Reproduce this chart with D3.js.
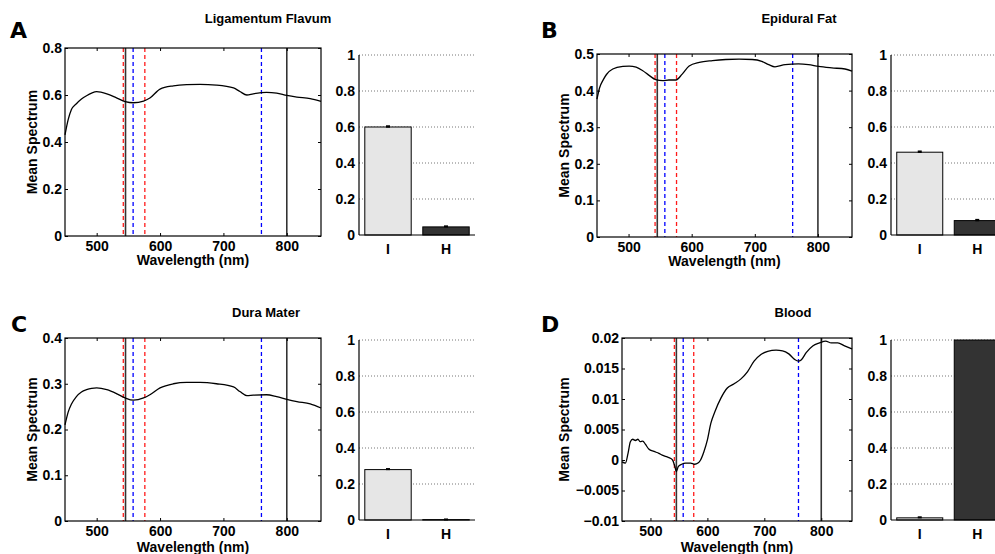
<!DOCTYPE html>
<html>
<head>
<meta charset="utf-8">
<script src="https://cdn.jsdelivr.net/npm/d3@7"></script>
<style>
body { margin: 0; background: #fff; }
text { font-family: "Liberation Sans", Arial, sans-serif; font-weight: bold; fill: #000; }
</style>
</head>
<body>
<svg id="fig" width="995" height="554"></svg>
<script>
// ---- data ----
var xTicks = [500, 600, 700, 800];
var redMarks = [542, 576];
var blueMarks = [557.5, 760];
var blackMarks = [545.5, 800];
var barCats = ["I", "H"];
var barTicks = [0, 0.2, 0.4, 0.6, 0.8, 1];

var flavumWl   = [450, 455, 460, 468, 476, 484, 492, 500, 516, 532, 545, 558, 574, 584, 600, 621, 642, 663, 689, 716, 726, 737, 747, 768, 784, 800, 816, 837, 854];
var flavumSpec = [0.43, 0.495, 0.537, 0.563, 0.583, 0.597, 0.608, 0.614, 0.605, 0.587, 0.572, 0.567, 0.574, 0.587, 0.625, 0.639, 0.644, 0.645, 0.642, 0.63, 0.615, 0.60, 0.605, 0.611, 0.608, 0.598, 0.591, 0.585, 0.573];
var flavumTicks = [0, 0.2, 0.4, 0.6, 0.8];
var flavumBar = [0.60, 0.045];
var flavumErr = [0.004, 0.003];

var fatWl   = [450, 454, 460, 465, 475, 491, 501, 512, 522, 533, 543, 554, 564, 575, 585, 596, 612, 633, 654, 675, 696, 711, 722, 732, 748, 769, 785, 801, 822, 843, 854];
var fatSpec = [0.377, 0.407, 0.43, 0.444, 0.459, 0.466, 0.467, 0.464, 0.455, 0.441, 0.43, 0.427, 0.429, 0.429, 0.445, 0.467, 0.477, 0.482, 0.485, 0.486, 0.485, 0.48, 0.471, 0.465, 0.471, 0.473, 0.471, 0.466, 0.462, 0.459, 0.453];
var fatTicks = [0, 0.1, 0.2, 0.3, 0.4, 0.5];
var fatBar = [0.46, 0.08];
var fatErr = [0.004, 0.004];

var duraWl   = [450, 455, 460, 468, 476, 484, 492, 500, 516, 532, 545, 558, 574, 584, 600, 621, 642, 663, 689, 716, 726, 737, 747, 768, 784, 800, 816, 837, 854];
var duraSpec = [0.21, 0.238, 0.255, 0.272, 0.282, 0.287, 0.29, 0.291, 0.287, 0.278, 0.269, 0.264, 0.269, 0.276, 0.291, 0.30, 0.303, 0.303, 0.30, 0.293, 0.283, 0.274, 0.275, 0.276, 0.272, 0.266, 0.261, 0.256, 0.247];
var duraTicks = [0, 0.1, 0.2, 0.3, 0.4];
var duraBar = [0.28, 0.002];
var duraErr = [0.003, 0.001];

var bloodWl   = [450, 456, 460.6, 464.7, 468.8, 473.5, 478, 482, 486.5, 491, 497, 506, 514.7, 520.6, 529.4, 535, 539.4, 543, 545.3, 548.8, 554.7, 561.8, 570.6, 577.6, 583.5, 588, 594, 600, 606, 613.5, 623.5, 635, 647, 659, 670.6, 682, 694, 706, 720.6, 732, 743, 753, 760, 764.7, 773.5, 785, 797, 807.6, 817.6, 829, 841, 854];
var bloodSpec = [-0.0003, -0.0005, 0.0011, 0.003, 0.0034, 0.0032, 0.0034, 0.003, 0.0031, 0.0026, 0.0018, 0.0014, 0.0011, 0.0008, 0.0005, 0.0003, -0.0001, -0.0011, -0.0019, -0.0011, -0.0007, -0.0005, -0.0005, -0.0007, -0.0005, 0, 0.0014, 0.0033, 0.006, 0.008, 0.0101, 0.0118, 0.0125, 0.0133, 0.0145, 0.0162, 0.0173, 0.0178, 0.018, 0.0179, 0.0174, 0.0165, 0.0162, 0.0164, 0.0176, 0.0187, 0.0192, 0.0195, 0.0192, 0.0192, 0.0187, 0.0182];
var bloodTicks = [-0.01, -0.005, 0, 0.005, 0.01, 0.015, 0.02];
var bloodBar = [0.012, 1.0];
var bloodErr = [0.003, 0];

var svg = d3.select("#fig");
var fmt = d3.format("~g");

var panels = [
	{ letter: "A", title: "Ligamentum Flavum", wl: flavumWl, spec: flavumSpec, ticks: flavumTicks, bar: flavumBar, err: flavumErr,
	  box: {l: 65, r: 321, t: 48, b: 236}, bbox: {l: 359, r: 475, t: 55, b: 235}, tx: 268, ty: 23, lx: 10, ly: 38, yl: 37, xl: 265 },
	{ letter: "B", title: "Epidural Fat", wl: fatWl, spec: fatSpec, ticks: fatTicks, bar: fatBar, err: fatErr,
	  box: {l: 597, r: 852, t: 54, b: 237}, bbox: {l: 891, r: 1006, t: 55, b: 235}, tx: 799, ty: 23, lx: 541, ly: 38, yl: 569, xl: 266 },
	{ letter: "C", title: "Dura Mater", wl: duraWl, spec: duraSpec, ticks: duraTicks, bar: duraBar, err: duraErr,
	  box: {l: 65, r: 321, t: 338, b: 521}, bbox: {l: 359, r: 475, t: 340, b: 520}, tx: 266, ty: 317, lx: 11, ly: 332, yl: 37, xl: 552 },
	{ letter: "D", title: "Blood", wl: bloodWl, spec: bloodSpec, ticks: bloodTicks, bar: bloodBar, err: bloodErr,
	  box: {l: 622, r: 852, t: 338, b: 521}, bbox: {l: 891, r: 1006, t: 340, b: 520}, tx: 793, ty: 317, lx: 541, ly: 332, yl: 569, xl: 552 }
];

panels.forEach(function (p) {
	drawSpectrum(p);
	drawBars(p);

	svg.append("text")
		.attr("x", p.tx).attr("y", p.ty)
		.attr("text-anchor", "middle")
		.style("font-size", "13px")
		.text(p.title);

	svg.append("text")
		.attr("x", p.lx).attr("y", p.ly)
		.style("font-family", "'DejaVu Sans', sans-serif")
		.style("font-size", "22px")
		.text(p.letter);
});

function drawSpectrum(p) {
	var b = p.box;
	var x = d3.scaleLinear().domain([450, 854]).range([b.l, b.r]);
	var y = d3.scaleLinear().domain(d3.extent(p.ticks)).range([b.b, b.t]);
	var g = svg.append("g");

	// marker lines
	function marks(vals, color, dash, w) {
		g.selectAll(null)
			.data(vals)
			.enter().append("line")
			.attr("x1", function (d) { return x(d); })
			.attr("x2", function (d) { return x(d); })
			.attr("y1", b.t).attr("y2", b.b)
			.attr("stroke", color)
			.attr("stroke-width", w)
			.attr("stroke-dasharray", dash);
	}
	marks(redMarks, "#ff1a1a", "4,3", 1.3);
	marks(blueMarks, "#0000ff", "4,3", 1.3);
	marks(blackMarks, "#333", null, 1.6);

	var line = d3.line()
		.x(function (d, i) { return x(p.wl[i]); })
		.y(function (d) { return y(d); })
		.curve(d3.curveMonotoneX);

	g.append("path")
		.datum(p.spec)
		.attr("d", line)
		.attr("fill", "none")
		.attr("stroke", "#000")
		.attr("stroke-width", 1.3);

	// axes, MATLAB style ticks inside on all four sides
	var ax = [
		[d3.axisBottom(x).tickValues(xTicks).tickFormat(d3.format("d")), 0, b.b],
		[d3.axisTop(x).tickValues(xTicks).tickFormat(""), 0, b.t],
		[d3.axisLeft(y).tickValues(p.ticks).tickFormat(fmt), b.l, 0],
		[d3.axisRight(y).tickValues(p.ticks).tickFormat(""), b.r, 0]
	];
	ax.forEach(function (a, i) {
		var s = g.append("g")
			.attr("transform", "translate(" + a[1] + "," + a[2] + ")")
			.call(a[0].tickSizeInner(-3).tickSizeOuter(0).tickPadding(i == 0 ? 5 : 3));
		s.select(".domain").remove();
		s.selectAll("line").attr("stroke", "#000");
		s.selectAll("text").style("font-size", "14px").attr("fill", "#000");
	});

	g.append("rect")
		.attr("x", b.l).attr("y", b.t)
		.attr("width", b.r - b.l).attr("height", b.b - b.t)
		.attr("fill", "none").attr("stroke", "#000").attr("stroke-width", 1.2);

	g.append("text")
		.attr("x", (b.l + b.r) / 2).attr("y", p.xl)
		.attr("text-anchor", "middle")
		.style("font-size", "14px")
		.text("Wavelength (nm)");

	g.append("text")
		.attr("transform", "translate(" + p.yl + "," + (b.t + b.b) / 2 + ") rotate(-90)")
		.attr("text-anchor", "middle")
		.style("font-size", "14px")
		.text("Mean Spectrum");
}

function drawBars(p) {
	var b = p.bbox;
	var x = d3.scaleBand().domain(barCats).range([b.l, b.r]).paddingInner(0.2).paddingOuter(0.1);
	var y = d3.scaleLinear().domain([0, 1]).range([b.b, b.t]);
	var g = svg.append("g");

	g.selectAll(".grid")
		.data(barTicks.slice(1))
		.enter().append("line")
		.attr("x1", b.l).attr("x2", b.r)
		.attr("y1", function (d) { return y(d); })
		.attr("y2", function (d) { return y(d); })
		.attr("stroke", "#777")
		.attr("stroke-width", 1)
		.attr("stroke-dasharray", "1,2");

	g.selectAll(".bar")
		.data(p.bar)
		.enter().append("rect")
		.attr("x", function (d, i) { return x(barCats[i]); })
		.attr("y", function (d) { return y(d); })
		.attr("width", x.bandwidth())
		.attr("height", function (d) { return b.b - y(d); })
		.attr("fill", function (d, i) { return i == 0 ? "#e6e6e6" : "#333"; })
		.attr("stroke", "#000")
		.attr("stroke-width", 1);

	// error bars
	p.bar.forEach(function (d, i) {
		if (p.err[i] <= 0) return;
		var cx = x(barCats[i]) + x.bandwidth() / 2;
		g.append("rect")
			.attr("x", cx - 2).attr("y", y(d + p.err[i]) - 1)
			.attr("width", 4)
			.attr("height", Math.max(2, y(d - p.err[i]) - y(d + p.err[i]) + 1))
			.attr("fill", "#000");
	});

	var ya = g.append("g")
		.attr("transform", "translate(" + b.l + ",0)")
		.call(d3.axisLeft(y).tickValues(barTicks).tickFormat(fmt).tickSize(0).tickPadding(4));
	ya.select(".domain").remove();
	ya.selectAll("text").style("font-size", "14px").attr("fill", "#000");

	var xa = g.append("g")
		.attr("transform", "translate(0," + b.b + ")")
		.call(d3.axisBottom(x).tickSize(0).tickPadding(9));
	xa.select(".domain").remove();
	xa.selectAll("text").style("font-size", "14px").attr("fill", "#000");

	g.append("line")
		.attr("x1", b.l).attr("x2", b.l).attr("y1", b.t).attr("y2", b.b)
		.attr("stroke", "#000").attr("stroke-width", 1.2);
	g.append("line")
		.attr("x1", b.l).attr("x2", b.r).attr("y1", b.b).attr("y2", b.b)
		.attr("stroke", "#000").attr("stroke-width", 1.2);
}
</script>
</body>
</html>
